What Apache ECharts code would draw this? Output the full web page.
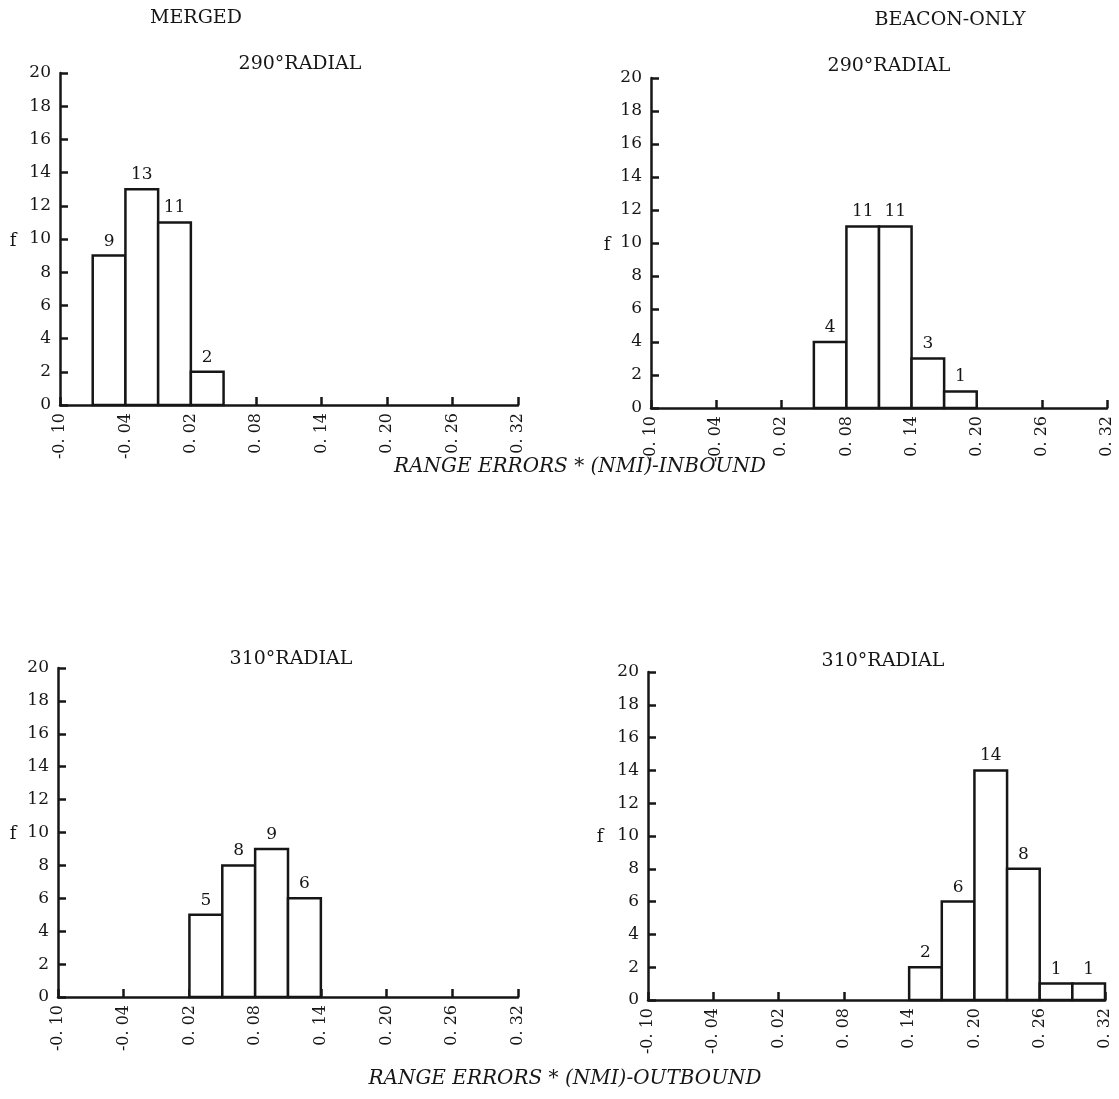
<!DOCTYPE html>
<html><head><meta charset="utf-8">
<script src="https://cdn.jsdelivr.net/npm/echarts@6/dist/echarts.min.js"></script>
<style>html,body{margin:0;padding:0;background:#fff}#c{width:1119px;height:1099px}</style>
</head><body><div id="c"></div>
<script>
// ---- data ----
const xTickLabels = ['-0. 10','-0. 04','0. 02','0. 08','0. 14','0. 20','0. 26','0. 32'];
const yTickLabels = ['0','2','4','6','8','10','12','14','16','18','20'];

const mergedInEdges  = [-0.07, -0.04, -0.01, 0.02, 0.05];
const mergedInCounts = [9, 13, 11, 2];

const beaconInEdges  = [0.05, 0.08, 0.11, 0.14, 0.17, 0.20];
const beaconInCounts = [4, 11, 11, 3, 1];

const mergedOutEdges  = [0.02, 0.05, 0.08, 0.11, 0.14];
const mergedOutCounts = [5, 8, 9, 6];

const beaconOutEdges  = [0.14, 0.17, 0.20, 0.23, 0.26, 0.29, 0.32];
const beaconOutCounts = [2, 6, 14, 8, 1, 1];

const panelTitles = ['290°RADIAL', '290°RADIAL', '310°RADIAL', '310°RADIAL'];
const columnTitles = ['MERGED', 'BEACON-ONLY'];
const axisTitles = ['RANGE ERRORS * (NMI)-INBOUND', 'RANGE ERRORS * (NMI)-OUTBOUND'];

// ---- layout ----
const FONT = 'DejaVu Serif';
const INK = '#161616';
const grids = [
  {left: 60,  top: 73,  width: 458, height: 332},
  {left: 651, top: 78,  width: 456, height: 330},
  {left: 58,  top: 668, width: 460, height: 329},
  {left: 648, top: 672, width: 457, height: 328}
];
const panels = [
  [mergedInEdges, mergedInCounts],
  [beaconInEdges, beaconInCounts],
  [mergedOutEdges, mergedOutCounts],
  [beaconOutEdges, beaconOutCounts]
];

function binData(edges, counts) {
  return counts.map((c, i) => [edges[i], edges[i + 1], c]);
}

const xAxes = grids.map((g, i) => ({
  type: 'value', gridIndex: i, min: -0.10, max: 0.32, interval: 0.06,
  axisLine: {show: true, onZero: false, lineStyle: {color: INK, width: 2.5}},
  axisTick: {show: true, inside: true, length: 8, lineStyle: {color: INK, width: 2.5}},
  splitLine: {show: false},
  axisLabel: {
    rotate: 90, margin: 8, color: INK, fontFamily: FONT, fontSize: 16,
    formatter: (v) => xTickLabels[Math.round((v + 0.10) / 0.06)]
  }
}));
const yAxes = grids.map((g, i) => ({
  type: 'value', gridIndex: i, min: 0, max: 20, interval: 2,
  axisLine: {show: true, onZero: false, lineStyle: {color: INK, width: 2.5}},
  axisTick: {show: true, inside: true, length: 8, lineStyle: {color: INK, width: 2.5}},
  splitLine: {show: false},
  axisLabel: {
    margin: 9, color: INK, fontFamily: FONT, fontSize: 17,
    formatter: (v) => yTickLabels[Math.round(v / 2)]
  }
}));

const series = panels.map((p, i) => ({
  type: 'custom', xAxisIndex: i, yAxisIndex: i,
  data: binData(p[0], p[1]),
  encode: {x: [0, 1], y: 2},
  z: 5,
  renderItem: (params, api) => {
    const a = api.coord([api.value(0), 0]);
    const b = api.coord([api.value(1), api.value(2)]);
    return {
      type: 'group',
      children: [
        {type: 'rect', shape: {x: a[0], y: b[1], width: b[0] - a[0], height: a[1] - b[1]},
         style: {fill: '#fff', stroke: INK, lineWidth: 2.5}},
        {type: 'text', x: (a[0] + b[0]) / 2, y: b[1] - 6,
         style: {text: String(api.value(2)), fill: INK, font: '17px "' + FONT + '"',
                 textAlign: 'center', textVerticalAlign: 'bottom'}}
      ]
    };
  }
}));

const graphics = [];
const titlePos = [[300, 64], [889, 66], [291, 659], [883, 661]];
panelTitles.forEach((t, i) => graphics.push({type: 'text', x: titlePos[i][0], y: titlePos[i][1],
  style: {text: t, fill: INK, font: '19px "' + FONT + '"', textAlign: 'center', textVerticalAlign: 'middle'}}));
const colPos = [[196, 18], [950, 20]];
columnTitles.forEach((t, i) => graphics.push({type: 'text', x: colPos[i][0], y: colPos[i][1],
  style: {text: t, fill: INK, font: '19px "' + FONT + '"', textAlign: 'center', textVerticalAlign: 'middle'}}));
const axPos = [[580, 467], [565, 1079]];
axisTitles.forEach((t, i) => graphics.push({type: 'text', x: axPos[i][0], y: axPos[i][1],
  style: {text: t, fill: INK, font: 'italic 20px "' + FONT + '"', textAlign: 'center', textVerticalAlign: 'middle'}}));
const fPos = [[13, 241], [607, 245], [13, 834], [600, 837]];
fPos.forEach((p) => graphics.push({type: 'text', x: p[0], y: p[1],
  style: {text: 'f', fill: INK, font: '18px "' + FONT + '"', textAlign: 'center', textVerticalAlign: 'middle'}}));

const chart = echarts.init(document.getElementById('c'), null, {renderer: 'canvas'});
chart.setOption({
  backgroundColor: '#fff',
  animation: false,
  grid: grids.map(g => Object.assign({containLabel: false}, g)),
  xAxis: xAxes,
  yAxis: yAxes,
  series: series,
  graphic: graphics
});
</script></body></html>
